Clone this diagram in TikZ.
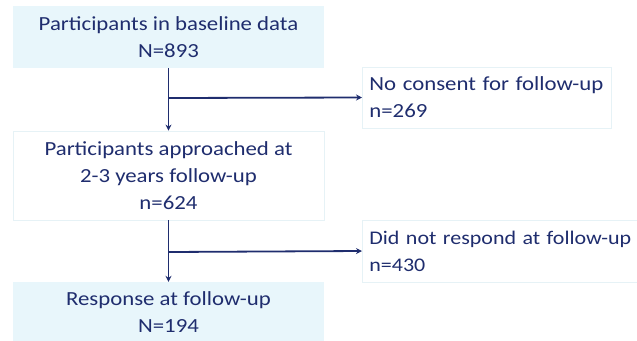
\documentclass[tikz,border=0pt]{standalone}
\usepackage{fontspec}
\setmainfont{Carlito}[FakeStretch=1.14]
\usetikzlibrary{arrows.meta}
\definecolor{navy}{HTML}{1F2D6E}
\definecolor{lightblue}{HTML}{E8F6FB}
\definecolor{faint}{HTML}{E6F2F6}
\tikzset{
  txt/.style={text=navy, font=\fontsize{20}{27}\selectfont, execute at begin node=\setlength{\baselineskip}{27pt}},
  bluebox/.style={txt, fill=lightblue, draw=none, minimum width=311pt, inner sep=0pt, align=center},
  whitebox/.style={txt, fill=white, draw=faint, line width=0.8pt, minimum width=311pt, inner sep=0pt, align=center},
  sidebox/.style={txt, fill=white, draw=faint, line width=0.8pt, inner xsep=7pt, inner ysep=0pt, align=left, anchor=west},
  conn/.style={draw=navy, line width=1.8pt},
  arr/.style={conn, -{Stealth[length=6pt,width=6pt]}}
}
\begin{document}
\begin{tikzpicture}[x=1pt,y=-1pt]
\useasboundingbox (0,0) rectangle (637,340);
\node[bluebox, minimum height=62pt] (b1) at (168.5,37) {Participants in baseline data\\N=893};
\node[whitebox, minimum height=89pt] (b2) at (168.5,175.5) {Participants approached at\\2-3 years follow-up\\n=624};
\node[bluebox, minimum height=60pt] (b3) at (168.5,312) {Response at follow-up\\N=194};
\node[sidebox, minimum width=249pt, minimum height=61pt, text width=235pt] (r1) at (362,97.5) {No consent for follow-up\\n=269};
\node[sidebox, minimum width=290pt, minimum height=62pt, text width=276pt, font=\fontsize{19.3}{27}\selectfont] (r2) at (362,251) {Did not respond at follow-up\\n=430};
\coordinate (j1) at (169,98);
\coordinate (j2) at (169,252);
\draw[arr] (b1.south) -- (b2.north);
\draw[arr] (j1) -- (r1.west);
\draw[arr] (b2.south) -- (b3.north);
\draw[arr] (j2) -- (r2.west);
\end{tikzpicture}
\end{document}
